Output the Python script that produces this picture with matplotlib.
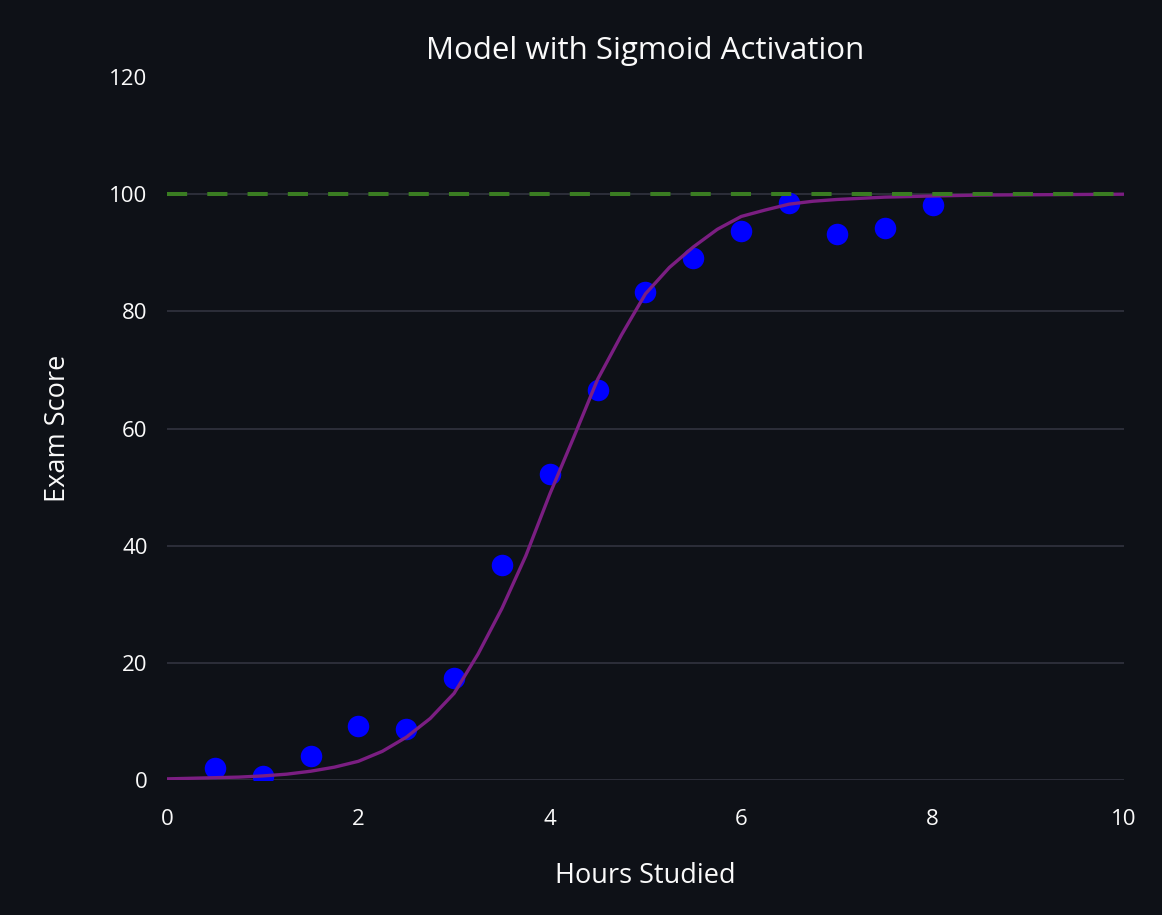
import numpy as np
import matplotlib.pyplot as plt

plt.rcParams['font.family'] = ['Open Sans', 'DejaVu Sans']

# observed scores
hours = [0.5, 1.0, 1.5, 2.0, 2.5, 3.0, 3.5, 4.0, 4.5, 5.0, 5.5, 6.0, 6.5, 7.0, 7.5, 8.0]
scores = [2.0, 0.7, 4.1, 9.2, 8.7, 17.4, 36.7, 52.2, 66.6, 83.3, 89.1, 93.7, 98.5, 93.2, 94.2, 98.1]

# model curve
curve_x = [0, 0.25, 0.5, 0.75, 1.0, 1.25, 1.5, 1.75, 2.0, 2.25, 2.5, 2.75, 3.0, 3.25,
           3.5, 3.75, 4.0, 4.25, 4.5, 4.75, 5.0, 5.25, 5.5, 5.75, 6.0, 6.25, 6.5, 6.75,
           7.0, 7.5, 8.0, 8.5, 9.0, 9.5, 10.0]
curve_y = [0.2, 0.3, 0.4, 0.5, 0.7, 1.0, 1.5, 2.2, 3.2, 4.9, 7.3, 10.5, 14.8, 21.5,
           29.3, 38.3, 48.8, 58.5, 68.4, 76.0, 83.0, 87.5, 91.0, 94.0, 96.2, 97.3, 98.3, 98.8,
           99.1, 99.5, 99.7, 99.85, 99.9, 99.95, 100.0]

max_score = 100
y_ticks = [0, 20, 40, 60, 80, 100, 120]
x_ticks = [0, 2, 4, 6, 8, 10]

bg = '#0e1117'
txt = '#fafafa'
grid_c = '#31333f'

fig = plt.figure(figsize=(11.62, 9.15), dpi=100, facecolor=bg)
ax = fig.add_axes([0.1437, 0.1475, 0.8236, 0.7683], facecolor=bg)

for v in y_ticks[:-1]:
    ax.axhline(v, color=grid_c, lw=1.2, zorder=1)

ax.plot(hours, scores, 'o', color='#0000ff', markersize=15.5, markeredgewidth=0, zorder=2)
ax.plot(curve_x, curve_y, color='#7b1e82', lw=2.4, zorder=3)
ax.plot([0, 10], [max_score, max_score], color='#3a7d22', lw=2.9, dashes=(5, 5), zorder=4)

ax.set_xlim(0, 10)
ax.set_ylim(0, 120)
ax.set_xticks(x_ticks)
ax.set_yticks(y_ticks)
for s in ax.spines.values():
    s.set_visible(False)
ax.tick_params(colors=txt, labelsize=16, length=0)
ax.tick_params(axis='x', pad=21)
ax.tick_params(axis='y', pad=14)

ax.set_xlabel('Hours Studied', color=txt, fontsize=19.5, labelpad=23)
ax.set_ylabel('Exam Score', color=txt, fontsize=19.5, labelpad=27)
fig.text(0.555, 0.944, 'Model with Sigmoid Activation', color=txt, fontsize=22.5,
         ha='center', va='center')

fig.savefig('out.png', dpi=100, facecolor=bg)
